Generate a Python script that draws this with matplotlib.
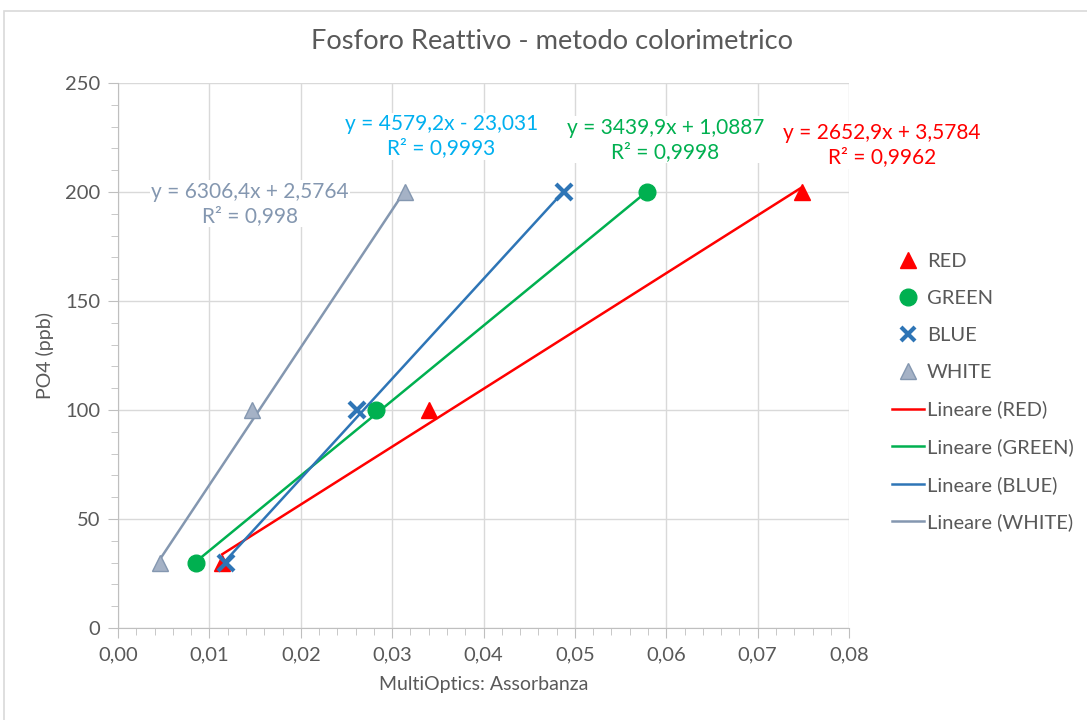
import matplotlib.pyplot as plt
from matplotlib.patches import Rectangle
from matplotlib.lines import Line2D
from matplotlib.ticker import MultipleLocator, FuncFormatter

plt.rcParams['font.family'] = ['Lato', 'DejaVu Sans']

# calibration points: absorbance vs PO4 concentration
conc = [30, 100, 200]
red_abs = [0.0114, 0.0340, 0.0748]
green_abs = [0.0085, 0.0282, 0.0579]
blue_abs = [0.0118, 0.0262, 0.0488]
white_abs = [0.0046, 0.0147, 0.0314]

# linear fits (slope, intercept, R2)
red_fit = (2652.9, 3.5784, 0.9962)
green_fit = (3439.9, 1.0887, 0.9998)
blue_fit = (4579.2, -23.031, 0.9993)
white_fit = (6306.4, 2.5764, 0.998)

series_names = ['RED', 'GREEN', 'BLUE', 'WHITE']

c_red = '#FF0000'
c_green = '#00B050'
c_blue = '#2E75B6'
c_white = '#8497B0'
c_txt = '#595959'
c_grid = '#D9D9D9'

fig = plt.figure(figsize=(10.87, 7.2), dpi=100)
ax = fig.add_axes([0.1086, 0.1278, 0.6725, 0.757])

# outer chart frame
fig.patches.append(Rectangle((0.004, -0.01), 1.0, 0.995, transform=fig.transFigure,
                             fill=False, edgecolor=c_grid, linewidth=1.2))

def fit_line(xs, fit, color):
    x0, x1 = min(xs), max(xs)
    m, q, _ = fit
    ax.plot([x0, x1], [m * x0 + q, m * x1 + q], color=color, lw=1.8, zorder=2)

fit_line(red_abs, red_fit, c_red)
fit_line(green_abs, green_fit, c_green)
fit_line(blue_abs, blue_fit, c_blue)
fit_line(white_abs, white_fit, c_white)

ax.plot(red_abs, conc, ls='none', marker='^', ms=11, color=c_red, zorder=3)
ax.plot(green_abs, conc, ls='none', marker='o', ms=12, color=c_green, zorder=3)
ax.plot(blue_abs, conc, ls='none', marker='x', ms=11, mew=3, color=c_blue, zorder=3)
ax.plot(white_abs, conc, ls='none', marker='^', ms=11, color='#A5B2C6',
        mec='#8497B0', zorder=3)

def eq_label(x, y, fit, color):
    m, q, r2 = fit
    sign = '-' if q < 0 else '+'
    txt = 'y = {}x {} {}\nR² = {}'.format(
        str(m).replace('.', ','), sign, str(abs(q)).replace('.', ','),
        str(r2).replace('.', ','))
    ax.text(x, y, txt, color=color, fontsize=15, ha='center', va='center',
            linespacing=1.25, zorder=4,
            bbox=dict(facecolor='white', edgecolor='none', pad=1))

eq_label(0.0836, 221.5, red_fit, c_red)
eq_label(0.0599, 224, green_fit, c_green)
eq_label(0.0354, 225.5, blue_fit, '#00B0F0')
eq_label(0.01445, 194.5, white_fit, c_white)

ax.set_xlim(0, 0.08)
ax.set_ylim(0, 250)
ax.xaxis.set_major_locator(MultipleLocator(0.01))
ax.xaxis.set_minor_locator(MultipleLocator(0.002))
ax.yaxis.set_major_locator(MultipleLocator(50))
ax.yaxis.set_minor_locator(MultipleLocator(10))
ax.xaxis.set_major_formatter(FuncFormatter(lambda v, p: '{:.2f}'.format(v).replace('.', ',')))
ax.grid(True, which='major', color=c_grid, lw=1)
ax.set_axisbelow(True)

for s in ['top', 'right']:
    ax.spines[s].set_visible(False)
for s in ['left', 'bottom']:
    ax.spines[s].set_color('#BFBFBF')
ax.tick_params(which='both', direction='out', color='#BFBFBF', labelcolor=c_txt,
               labelsize=14.5)
ax.tick_params(which='major', length=7, pad=6)
ax.tick_params(which='minor', length=5)

ax.set_xlabel('MultiOptics: Assorbanza', fontsize=14, color=c_txt, labelpad=9)
ax.set_ylabel('PO4 (ppb)', fontsize=14, color=c_txt, labelpad=8)
fig.text(0.508, 0.942, 'Fosforo Reattivo - metodo colorimetrico', fontsize=19.6,
         color=c_txt, ha='center', va='center')

handles = [
    Line2D([], [], ls='none', marker='^', ms=11, color=c_red),
    Line2D([], [], ls='none', marker='o', ms=12, color=c_green),
    Line2D([], [], ls='none', marker='x', ms=10, mew=3, color=c_blue),
    Line2D([], [], ls='none', marker='^', ms=11, color='#A5B2C6', mec='#8497B0'),
    Line2D([], [], color=c_red, lw=1.8),
    Line2D([], [], color=c_green, lw=1.8),
    Line2D([], [], color=c_blue, lw=1.8),
    Line2D([], [], color=c_white, lw=1.8),
]
labels = series_names + ['Lineare ({})'.format(n) for n in series_names]
leg = fig.legend(handles, labels, loc='center left', bbox_to_anchor=(0.813, 0.455),
                 frameon=False, fontsize=14.5, handlelength=1.6, handletextpad=0.15,
                 labelspacing=0.98, borderaxespad=0)
for t in leg.get_texts():
    t.set_color(c_txt)

fig.savefig('out.png', dpi=100)
